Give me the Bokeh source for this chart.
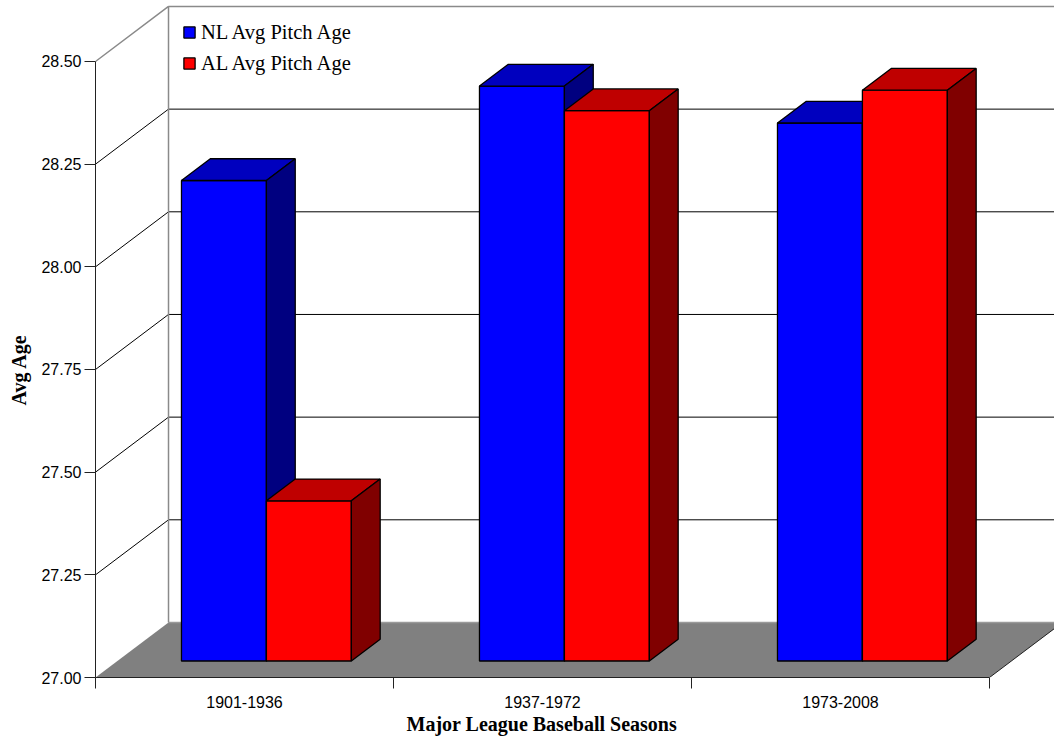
import math
from bokeh.plotting import figure
from bokeh.models import (Range1d, LinearAxis, FixedTicker, Legend, LegendItem,
                          Title)
from bokeh.embed import file_html
from bokeh.resources import INLINE

# ---- data ----
seasons = ["1901-1936", "1937-1972", "1973-2008"]
nl_avg_age = [28.17, 28.40, 28.31]
al_avg_age = [27.39, 28.34, 28.39]
y_ticks = [27.00, 27.25, 27.50, 27.75, 28.00, 28.25, 28.50]

# ---- 3D box geometry (x in category units, y in value units) ----
BASE = 27.0
TOP = 28.5
DX = 0.245          # full depth of the box, horizontal shift
DY = 0.134          # full depth of the box, vertical shift
F0, F1 = 0.30, 0.695  # front / back depth fractions of the bars
BAR_W = 0.285
X_END = 959 / 298.0
Y_END = BASE + 677 / 410.67

SERIF = "Liberation Serif"
SANS = "Liberation Sans"

p = figure(width=1054, height=742,
           x_range=Range1d(0, X_END), y_range=Range1d(BASE, Y_END),
           output_backend="svg", toolbar_location=None,
           x_axis_type=None, y_axis_type=None,
           min_border_left=95, min_border_right=0,
           min_border_top=0, min_border_bottom=65)
p.xgrid.visible = False
p.ygrid.visible = False
p.outline_line_color = None
p.background_fill_color = "white"

n = len(seasons)

# floor
p.patch([0, n, n + DX, DX], [BASE, BASE, BASE + DY, BASE + DY],
        fill_color="#808080", line_color=None)
p.line([n, n + DX], [BASE, BASE + DY], line_color="#202020", line_width=1)
p.line([DX, X_END], [BASE + DY, BASE + DY], line_color="#9a9a9a", line_width=1.5)

# back wall grid lines
for t in y_ticks[1:-1]:
    p.line([DX, X_END], [t + DY, t + DY], line_color="black", line_width=1)
# side wall grid lines
for t in y_ticks[1:-1]:
    p.line([0, DX], [t, t + DY], line_color="black", line_width=1)
# wall borders
p.line([0, DX, DX], [TOP, TOP + DY, BASE + DY], line_color="#8a8a8a", line_width=1.5)
p.line([DX, X_END], [TOP + DY, TOP + DY], line_color="#8a8a8a", line_width=1.5)


def faces(values, offset):
    front_x, front_y, top_x, top_y, side_x, side_y = [], [], [], [], [], []
    for i, v in enumerate(values):
        x0 = i + 0.5 + offset
        x1 = x0 + BAR_W
        a0, a1 = F0 * DX, F1 * DX
        b0, b1 = F0 * DY, F1 * DY
        front_x.append([x0 + a0, x1 + a0, x1 + a0, x0 + a0])
        front_y.append([BASE + b0, BASE + b0, v + b0, v + b0])
        top_x.append([x0 + a0, x1 + a0, x1 + a1, x0 + a1])
        top_y.append([v + b0, v + b0, v + b1, v + b1])
        side_x.append([x1 + a0, x1 + a1, x1 + a1, x1 + a0])
        side_y.append([BASE + b0, BASE + b1, v + b1, v + b0])
    return (front_x, front_y), (top_x, top_y), (side_x, side_y)


def draw_bars(values, offset, colors):
    front, top, side = faces(values, offset)
    r = p.patches(front[0], front[1], fill_color=colors[0],
                  line_color="black", line_width=1.3)
    p.patches(top[0], top[1], fill_color=colors[1],
              line_color="black", line_width=1.3)
    p.patches(side[0], side[1], fill_color=colors[2],
              line_color="black", line_width=1.3)
    return r


nl_r = draw_bars(nl_avg_age, -BAR_W, ("#0000FF", "#0000BF", "#000080"))
al_r = draw_bars(al_avg_age, 0.0, ("#FF0000", "#BF0000", "#800000"))

# ---- axes ----
yaxis = LinearAxis(ticker=FixedTicker(ticks=y_ticks), bounds=(BASE, TOP),
                   major_label_overrides={t: f"{t:.2f}" for t in y_ticks})
yaxis.major_tick_out = 11
yaxis.major_tick_in = 0
yaxis.minor_tick_out = 0
yaxis.major_label_standoff = 3
yaxis.major_label_text_font = SANS
yaxis.major_label_text_font_size = "16px"
yaxis.major_label_text_color = "black"
yaxis.axis_line_color = "#222222"
yaxis.major_tick_line_color = "#222222"
p.add_layout(yaxis, "left")

cat_pos = [i + 0.5 for i in range(n)]
xaxis = LinearAxis(ticker=FixedTicker(ticks=cat_pos, minor_ticks=list(range(n + 1))),
                   bounds=(0, n),
                   major_label_overrides={c: s for c, s in zip(cat_pos, seasons)})
xaxis.major_tick_out = 0
xaxis.major_tick_in = 0
xaxis.minor_tick_out = 11
xaxis.minor_tick_in = 0
xaxis.minor_tick_line_color = "#222222"
xaxis.major_label_standoff = 7
xaxis.major_label_text_font = SANS
xaxis.major_label_text_font_size = "16px"
xaxis.major_label_text_color = "black"
xaxis.axis_line_color = "#222222"
p.add_layout(xaxis, "below")

# axis titles
p.add_layout(Title(text="Major League Baseball Seasons", align="left", offset=311,
                   vertical_align="top",
                   text_font=SERIF, text_font_style="bold", text_font_size="20px",
                   text_color="black", standoff=4), "below")
p.add_layout(Title(text="Avg Age", align="left", offset=272,
                   vertical_align="top",
                   text_font=SERIF, text_font_style="bold", text_font_size="20px",
                   text_color="black", standoff=14), "left")

# ---- legend ----
legend = Legend(items=[LegendItem(label="NL Avg Pitch Age", renderers=[nl_r]),
                       LegendItem(label="AL Avg Pitch Age", renderers=[al_r])],
                location=(87, 599), orientation="vertical",
                glyph_width=14, glyph_height=14, label_height=30, spacing=1,
                label_standoff=5, padding=0, margin=0,
                border_line_color=None, background_fill_alpha=0,
                label_text_font=SERIF, label_text_font_size="20.5px",
                label_text_color="black")
p.add_layout(legend, "center")

open("out.html", "w").write(file_html(p, INLINE))
